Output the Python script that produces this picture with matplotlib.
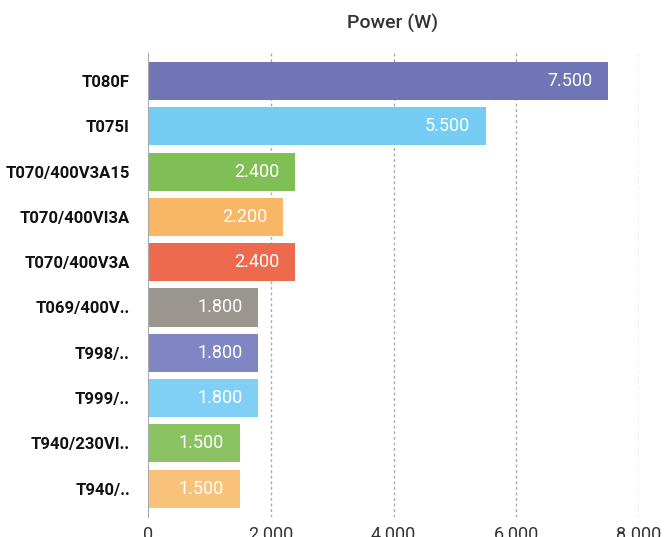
import matplotlib
matplotlib.use('Agg')
import matplotlib.pyplot as plt

plt.rcParams['font.family'] = ['Roboto', 'DejaVu Sans']

models = ['T080F', 'T075I', 'T070/400V3A15', 'T070/400VI3A', 'T070/400V3A',
          'T069/400V..', 'T998/..', 'T999/..', 'T940/230VI..', 'T940/..']
power = [7500, 5500, 2400, 2200, 2400, 1800, 1800, 1800, 1500, 1500]
colors = ['#7075b5', '#75cdf3', '#80bf55', '#f9b765', '#ee6a4e',
          '#9a958f', '#8085c4', '#80d0f5', '#8bc363', '#f9c27a']
ticks = [0, 2000, 4000, 6000, 8000]


def fmt(v):
    # thousands separated with a dot
    return '{:,}'.format(v).replace(',', '.')


fig = plt.figure(figsize=(6.66, 5.37), dpi=100)
ax = fig.add_axes([148 / 666, 1 - 516.7 / 537, (639 - 148) / 666, (516.7 - 53) / 537])

y = range(len(models))
ax.barh(y, power, height=0.84, color=colors, zorder=2)
for i, v in enumerate(power):
    ax.text(v - 260, i, fmt(v), ha='right', va='center', color='white',
            fontsize=13, zorder=3)

ax.set_xlim(0, 8000)
ax.set_ylim(len(models) - 0.38, -0.62)
ax.set_yticks(list(y))
ax.set_yticklabels(models, fontsize=12, fontweight='bold', color='#111111')
ax.set_xticks(ticks)
ax.set_xticklabels([fmt(t) for t in ticks], fontsize=13, color='#333333')
ax.tick_params(length=0)
ax.tick_params(axis='x', pad=7)
ax.tick_params(axis='y', pad=13)

for t in ticks[1:]:
    ax.axvline(t, color='#aaaaaa', lw=1, ls=(0, (2, 2)), zorder=1)

for s in ['top', 'right', 'bottom']:
    ax.spines[s].set_visible(False)
ax.spines['left'].set_color('#aaaaaa')

fig.text(393 / 666, 1 - 23 / 537, 'Power (W)', ha='center', va='center',
         fontsize=14, fontweight='medium', color='#333333')

fig.savefig('out.png', dpi=100)
